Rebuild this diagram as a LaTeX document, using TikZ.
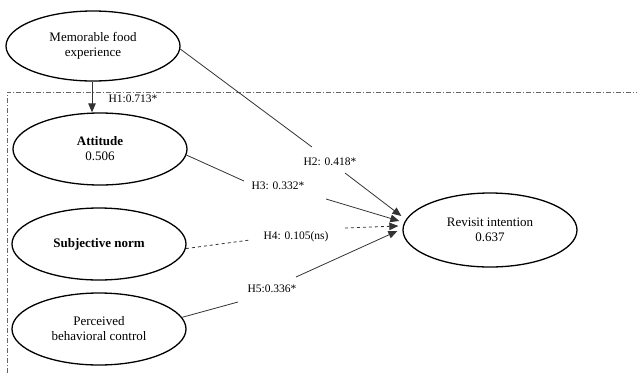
\documentclass[tikz,border=0pt]{standalone}
\usepackage{fontspec}
\setmainfont{Liberation Serif}
\usetikzlibrary{shapes.geometric,arrows.meta}
\begin{document}
\begin{tikzpicture}[x=1pt,y=-1pt,
  construct/.style={draw=black,line width=1.3pt,ellipse,inner sep=0pt,
    minimum width=174pt,minimum height=70pt,align=center,
    font=\fontsize{13}{15}\selectfont},
  lab/.style={inner sep=0pt,font=\fontsize{11.5}{13}\selectfont},
  conn/.style={draw=black!80,line width=0.8pt},
  arr/.style={conn,-{Triangle[length=9pt,width=7.5pt]}},
  frame/.style={draw=black!60,line width=0.8pt,dash pattern=on 5pt off 2pt on 1pt off 2pt}
]
\useasboundingbox (0,0) rectangle (637,373);
\draw[frame] (7,373) -- (7,92) -- (637,92);

\node[construct] (mfe) at (93,46) {Memorable food\\experience};
\node[construct,minimum height=72pt] (att) at (100,149) {\textbf{Attitude}\\0.506};
\node[construct,minimum height=72pt] (sn) at (99,244) {\textbf{Subjective norm}};
\node[construct,minimum height=72pt] (pbc) at (99,329) {Perceived\\behavioral control};
\node[construct,minimum height=74pt] (rev) at (490,230) {Revisit intention\\0.637};

\node[lab] (h1) at (133,99) {H1:0.713*};
\node[lab] (h2) at (330,162) {H2: 0.418*};
\node[lab] (h3) at (278,186) {H3: 0.332*};
\node[lab] (h4) at (296,237) {H4: 0.105(ns)};
\node[lab] (h5) at (272,289) {H5:0.336*};

\coordinate (t2) at ([xshift=-1pt,yshift=14pt]rev.west);
\coordinate (t3) at ([xshift=-3pt,yshift=9pt]rev.west);
\coordinate (t4) at ([xshift=-4pt,yshift=4pt]rev.west);
\coordinate (t5) at ([xshift=-5pt,yshift=-1pt]rev.west);

\coordinate (h2s) at (312,147); \coordinate (h2e) at (345,173);
\coordinate (h3s) at (244,181); \coordinate (h3e) at (326,199);
\coordinate (h4s) at (250,240); \coordinate (h4e) at (345,228);
\coordinate (h5s) at (238,302); \coordinate (h5e) at (296,277);

\draw[arr] ([xshift=-1pt]mfe.south) -- ([xshift=-1pt]mfe.south |- att.north);
\draw[conn] (mfe.-2) -- (h2s);
\draw[arr] (h2e) -- (t2);
\draw[conn] (att.-4) -- (h3s);
\draw[arr] (h3e) -- (t3);
\draw[conn,dashed] (sn.-3) -- (h4s);
\draw[arr,dashed] (h4e) -- (t4);
\draw[conn] (pbc.8) -- (h5s);
\draw[arr] (h5e) -- (t5);
\end{tikzpicture}
\end{document}
